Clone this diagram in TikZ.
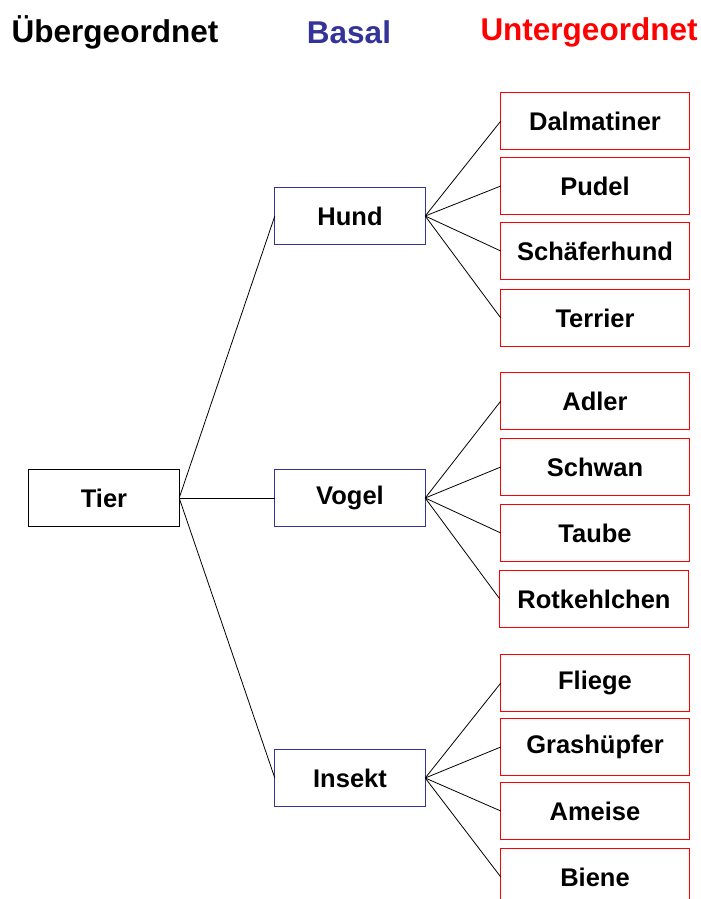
\documentclass[tikz,border=0pt]{standalone}
\usepackage{fontspec}
\setmainfont{Liberation Sans}
\definecolor{basalblue}{RGB}{51,51,153}
\definecolor{subred}{RGB}{255,0,0}
\begin{document}
\begin{tikzpicture}[x=1pt,y=-1pt,
  base/.style={minimum width=150pt,minimum height=56pt,inner sep=0pt,font=\fontsize{25.5}{30}\selectfont\bfseries,text=black},
  topbox/.style={base},
  midbox/.style={base},
  subbox/.style={base,minimum width=188pt},
  frame/.style={line width=1pt},
  head/.style={font=\fontsize{31.5}{36}\selectfont\bfseries,inner sep=0pt},
  link/.style={draw=black,line width=0.8pt}]
\useasboundingbox (0,0) rectangle (701,899);
\node[head,black] (h1) at (115,32) {Übergeordnet};
\node[head,basalblue] (h2) at (349,32) {Basal};
\node[head,subred] (h3) at (589,32) {Untergeordnet};

\node[topbox] (tier) at (104,498) {Tier};
\node[midbox] (hund) at (350,216) {Hund};
\node[midbox] (vogel) at (350,498) {Vogel};
\node[midbox] (insekt) at (350,778) {Insekt};

\node[subbox] (d1) at (595,121) {Dalmatiner};
\node[subbox] (d2) at (595,186) {Pudel};
\node[subbox] (d3) at (595,251) {Schäferhund};
\node[subbox] (d4) at (595,318) {Terrier};
\node[subbox] (v1) at (595,401) {Adler};
\node[subbox] (v2) at (595,467) {Schwan};
\node[subbox] (v3) at (595,533) {Taube};
\node[subbox] (v4) at (594,599) {Rotkehlchen};
\node[subbox] (i1) at (595,683) {Fliege};
\node[subbox] (i2) at (595,747) {Grashüpfer};
\node[subbox] (i3) at (595,811) {Ameise};
\node[subbox] (i4) at (595,877) {Biene};

\draw[frame,black] (tier.north west) rectangle (tier.south east);
\foreach \m in {hund,vogel,insekt}
  \draw[frame,basalblue] (\m.north west) rectangle (\m.south east);
\foreach \s in {d1,d2,d3,d4,v1,v2,v3,v4,i1,i2,i3,i4}
  \draw[frame,subred] (\s.north west) rectangle (\s.south east);

\foreach \m in {hund,vogel,insekt} \draw[link] (tier.east) -- (\m.west);
\foreach \s in {d1,d2,d3,d4} \draw[link] (hund.east) -- (\s.west);
\foreach \s in {v1,v2,v3,v4} \draw[link] (vogel.east) -- (\s.west);
\foreach \s in {i1,i2,i3,i4} \draw[link] (insekt.east) -- (\s.west);
\end{tikzpicture}
\end{document}
